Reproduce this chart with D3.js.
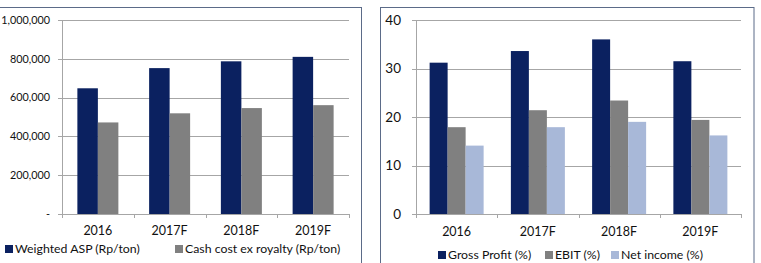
<!DOCTYPE html>
<html><head><meta charset="utf-8">
<script src="https://cdn.jsdelivr.net/npm/d3@7"></script>
<style>
html,body{margin:0;padding:0;background:#fff;}
svg{display:block;font-family:Lato, "Liberation Sans", sans-serif;}
</style></head>
<body><svg id="c" width="761" height="263"></svg>
<script>
const categories = ["2016","2017F","2018F","2019F"];
// Left chart
const aspValues = [648000, 752000, 787000, 810000];
const cashCostValues = [472000, 519000, 546000, 561000];
const leftSeriesNames = ["Weighted ASP (Rp/ton)", "Cash cost ex royalty (Rp/ton)"];
const leftTicks = [0, 200000, 400000, 600000, 800000, 1000000];
const leftTickLabels = ["-", "200,000", "400,000", "600,000", "800,000", "1,000,000"];
// Right chart
const grossProfit = [31.2, 33.6, 36.0, 31.5];
const ebit = [17.9, 21.4, 23.4, 19.4];
const netIncome = [14.1, 17.9, 19.0, 16.2];
const rightSeriesNames = ["Gross Profit (%)", "EBIT (%)", "Net income (%)"];
const rightTicks = [0, 10, 20, 30, 40];
const rightTickLabels = ["0","10","20","30","40"];

const colors = ["#0b2160", "#808080", "#a8b8d8"];
const textColor = "#111";
const svg = d3.select("#c");

// panel frames
svg.append("rect").attr("x",-5).attr("y",7.5).attr("width",366.5).attr("height",270)
  .attr("fill","none").attr("stroke","#5b6b88").attr("stroke-width",1);
svg.append("rect").attr("x",380.5).attr("y",7.5).attr("width",373.5).attr("height",270)
  .attr("fill","none").attr("stroke","#5b6b88").attr("stroke-width",1);

function drawChart(opt){
  const g = svg.append("g");
  const x = d3.scaleBand().domain(categories).range([opt.x0, opt.x1]);
  const y = d3.scaleLinear().domain([0, opt.max]).range([opt.yb, opt.yt]);
  g.selectAll(".grid").data(opt.ticks.slice(1)).join("line")
    .attr("x1", opt.x0 - 4).attr("x2", opt.x1)
    .attr("y1", d => Math.round(y(d)) + 0.5).attr("y2", d => Math.round(y(d)) + 0.5)
    .attr("stroke", "#a6a6a6").attr("stroke-width", 1);
  g.append("line").attr("x1", opt.x0 + 0.5).attr("x2", opt.x0 + 0.5)
    .attr("y1", opt.yt).attr("y2", opt.yb).attr("stroke", "#a6a6a6");
  g.selectAll(".yl").data(opt.ticks).join("text")
    .attr("x", opt.labelX).attr("y", d => y(d)).attr("dy", "0.35em")
    .attr("text-anchor", "end").attr("font-size", opt.yFont).attr("fill", textColor)
    .text((d, i) => opt.tickLabels[i]);
  const n = opt.series.length;
  const groupW = opt.barW * n;
  opt.series.forEach((vals, si) => {
    g.selectAll(".b" + si).data(vals).join("rect")
      .attr("x", (d, i) => x(categories[i]) + x.bandwidth() / 2 - groupW / 2 + si * opt.barW)
      .attr("y", d => y(d))
      .attr("width", opt.barW)
      .attr("height", d => y(0) - y(d))
      .attr("fill", colors[si]);
  });
  g.append("line").attr("x1", opt.x0 - 4).attr("x2", opt.x1)
    .attr("y1", Math.round(y(0)) + 0.5).attr("y2", Math.round(y(0)) + 0.5).attr("stroke", "#a6a6a6");
  const bounds = categories.map(c => x(c)).concat([opt.x1]);
  g.selectAll(".xt").data(bounds).join("line")
    .attr("x1", d => Math.round(d) + 0.5).attr("x2", d => Math.round(d) + 0.5)
    .attr("y1", y(0)).attr("y2", y(0) + 4).attr("stroke", "#a6a6a6");
  g.selectAll(".xl").data(categories).join("text")
    .attr("x", d => x(d) + x.bandwidth() / 2).attr("y", opt.xLabelY).attr("dy", "0.35em")
    .attr("text-anchor", "middle").attr("font-size", opt.xFont).attr("fill", textColor).text(d => d);
  opt.legend.forEach((L, i) => {
    g.append("rect").attr("x", L.x).attr("y", opt.legendY - 4).attr("width", 8).attr("height", 8).attr("fill", colors[i]);
    g.append("text").attr("x", L.x + 10).attr("y", opt.legendY).attr("dy", "0.35em")
      .attr("font-size", opt.legendFont).attr("fill", textColor).text(opt.names[i]);
  });
}

drawChart({
  x0: 62, x1: 349, yt: 20, yb: 214, max: 1000000,
  ticks: leftTicks, tickLabels: leftTickLabels, labelX: 50, yFont: 10.8,
  series: [aspValues, cashCostValues], barW: 20.5,
  xLabelY: 231, xFont: 12.5, legendY: 249, legendFont: 12.3,
  names: leftSeriesNames, legend: [{x: 5}, {x: 175}]
});
drawChart({
  x0: 416, x1: 741, yt: 20, yb: 214, max: 40,
  ticks: rightTicks, tickLabels: rightTickLabels, labelX: 401, yFont: 13.5,
  series: [grossProfit, ebit, netIncome], barW: 18,
  xLabelY: 232, xFont: 12.5, legendY: 255, legendFont: 12.3,
  names: rightSeriesNames, legend: [{x: 438}, {x: 545}, {x: 611}]
});
</script></body></html>
